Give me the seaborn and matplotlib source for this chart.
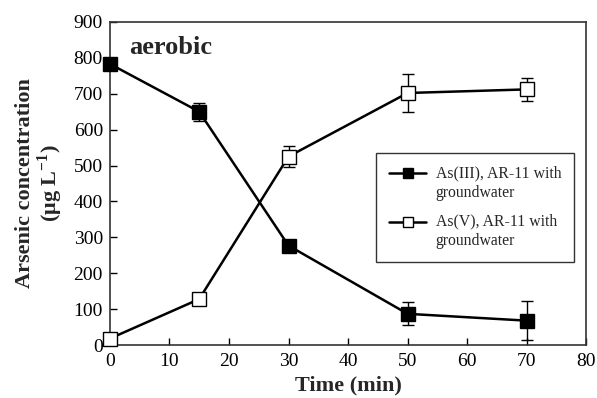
import matplotlib
matplotlib.use("Agg")
import matplotlib.pyplot as plt
import seaborn as sns
import pandas as pd
import numpy as np
from matplotlib.legend_handler import HandlerLine2D

time = [0, 15, 30, 50, 70]
as3 = [783, 650, 277, 87, 68]
as3_err = [0, 25, 15, 32, 55]
as5 = [18, 128, 525, 702, 712]
as5_err = [0, 0, 30, 54, 32]
labels = ["As(III), AR-11 with\ngroundwater", "As(V), AR-11 with\ngroundwater"]

sns.set_theme(style="ticks")
plt.rcParams['font.family'] = ['Liberation Serif', 'DejaVu Serif']
plt.rcParams['mathtext.fontset'] = 'custom'
plt.rcParams['mathtext.rm'] = 'Liberation Serif:bold'

fig = plt.figure(figsize=(5.97, 3.98), dpi=100)
ax = fig.add_axes([0.184, 0.133, 0.798, 0.812])

df = pd.DataFrame({"time": time * 2,
                   "conc": as3 + as5,
                   "err": as3_err + as5_err,
                   "series": [labels[0]] * 5 + [labels[1]] * 5})

for lab, face in zip(labels, ["black", "white"]):
    sub = df[df.series == lab]
    ax.errorbar(sub.time, sub.conc, yerr=sub.err, fmt="none", ecolor="black",
                elinewidth=1.0, capsize=4, capthick=1.0, zorder=2, clip_on=False)
    sns.lineplot(data=sub, x="time", y="conc", ax=ax, color="black", lw=1.8,
                 marker="s", markersize=9.5, markerfacecolor=face,
                 markeredgecolor="black", markeredgewidth=1.0, label=lab,
                 zorder=3, clip_on=False)

ax.set_xlim(0, 80)
ax.set_ylim(0, 900)
ax.set_xticks(range(0, 81, 10))
ax.set_yticks(range(0, 901, 100))
ax.tick_params(direction="in", length=5, width=1, labelsize=14, colors="black")
ax.tick_params(axis="x", pad=6)
ax.tick_params(axis="y", pad=5)
for s in ax.spines.values():
    s.set_visible(True)
    s.set_linewidth(1.2)
    s.set_color("#333333")

ax.set_xlabel("Time (min)", fontsize=16, fontweight="bold", labelpad=4)
ax.set_ylabel("Arsenic concentration\n(μg L$^{\\mathregular{-1}}$)", fontsize=16,
              fontweight="bold", labelpad=6, linespacing=1.05)
ax.text(0.04, 0.92, "aerobic", transform=ax.transAxes, fontsize=19,
        fontweight="bold", ha="left", va="center")


class UpHandler(HandlerLine2D):
    def create_artists(self, legend, orig_handle, xdescent, ydescent, width,
                       height, fontsize, trans):
        return super().create_artists(legend, orig_handle, xdescent,
                                      ydescent - 1.35 * fontsize, width, height,
                                      fontsize, trans)


handles, labs = ax.get_legend_handles_labels()
leg = ax.legend(handles, labs, loc="upper left", bbox_to_anchor=(0.559, 0.594),
                frameon=True, fancybox=False, edgecolor="black", fontsize=11.3,
                handlelength=2.4, borderpad=0.8, labelspacing=0.8,
                handletextpad=0.6, markerscale=0.7, borderaxespad=0,
                handler_map={h: UpHandler() for h in handles})
for t in leg.get_texts():
    t.set_linespacing(1.3)
leg.get_frame().set_linewidth(1.0)

fig.savefig("out.png", dpi=100)
